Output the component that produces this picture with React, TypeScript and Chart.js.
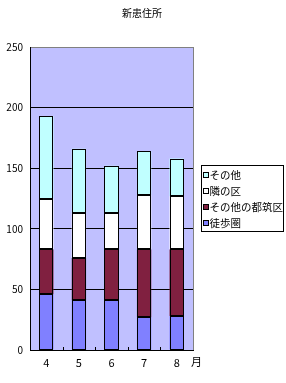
import React, { useEffect, useRef } from 'react';
import { Chart, registerables } from 'chart.js';

Chart.register(...registerables);

const TITLE = '新患住所';
const MONTHS = ['4', '5', '6', '7', '8'];
const MONTH_UNIT = '月';
const SERIES_NAMES = ['徒歩圏', 'その他の都筑区', '隣の区', 'その他'];
const WALKING = [46, 41, 41, 27, 28];
const OTHER_TSUZUKI = [37, 35, 42, 56, 55];
const NEIGHBOR_WARD = [42, 37, 30, 45, 44];
const OTHER = [68, 53, 39, 36, 31];
const SERIES_COLORS = ['#8080FF', '#802040', '#FFFFFF', '#C0FFFF'];
const Y_MIN = 0;
const Y_MAX = 250;
const Y_STEP = 50;

const FONT = '"Noto Sans CJK JP", "Noto Sans", sans-serif';

const decorPlugin = {
  id: 'decor',
  beforeDraw(chart: any) {
    const { ctx, chartArea } = chart;
    ctx.save();
    ctx.fillStyle = '#C0C0FF';
    ctx.fillRect(chartArea.left, chartArea.top, chartArea.right - chartArea.left, chartArea.bottom - chartArea.top);
    ctx.restore();
  },
  afterDatasetsDraw(chart: any) {
    const { ctx } = chart;
    ctx.save();
    ctx.strokeStyle = '#000';
    ctx.lineWidth = 1;
    chart.data.datasets.forEach((_: any, di: number) => {
      const meta = chart.getDatasetMeta(di);
      meta.data.forEach((el: any) => {
        const p = el.getProps(['x', 'y', 'base', 'width'], true);
        const l = Math.round(p.x - p.width / 2) + 0.5;
        const r = Math.round(p.x + p.width / 2) - 0.5;
        const t = Math.round(Math.min(p.y, p.base)) + 0.5;
        const b = Math.round(Math.max(p.y, p.base)) - 0.5;
        ctx.strokeRect(l, t, r - l, b - t);
      });
    });
    ctx.restore();
  },
  afterDraw(chart: any) {
    const { ctx, chartArea } = chart;
    ctx.save();
    // right border (gray)
    ctx.strokeStyle = '#808080';
    ctx.lineWidth = 1;
    ctx.beginPath();
    ctx.moveTo(Math.round(chartArea.right) + 0.5, chartArea.top);
    ctx.lineTo(Math.round(chartArea.right) + 0.5, chartArea.bottom);
    ctx.stroke();
    // category tick marks (inside)
    const n = MONTHS.length;
    const w = (chartArea.right - chartArea.left) / n;
    ctx.strokeStyle = '#000';
    ctx.beginPath();
    for (let i = 1; i < n; i++) {
      const x = Math.round(chartArea.left + w * i) + 0.5;
      ctx.moveTo(x, chartArea.bottom);
      ctx.lineTo(x, chartArea.bottom - 3);
    }
    ctx.stroke();
    // title
    ctx.fillStyle = '#000';
    ctx.font = `10px ${FONT}`;
    ctx.textAlign = 'center';
    ctx.textBaseline = 'middle';
    ctx.fillText(TITLE, 142, 13);
    // unit label
    ctx.font = `11px ${FONT}`;
    ctx.textAlign = 'left';
    ctx.fillText(MONTH_UNIT, chartArea.right - 2, chartArea.bottom + 12);
    // legend
    const bx = 201.5, by = 165.5, bw = 82, bh = 66;
    ctx.fillStyle = '#FFFFFF';
    ctx.fillRect(bx, by, bw, bh);
    ctx.strokeStyle = '#000';
    ctx.strokeRect(bx, by, bw, bh);
    const ds = chart.data.datasets;
    const rowY0 = 175;
    const rowStep = 16;
    ctx.font = `10.5px ${FONT}`;
    ctx.textBaseline = 'middle';
    for (let k = 0; k < ds.length; k++) {
      const d = ds[ds.length - 1 - k];
      const y = rowY0 + rowStep * k;
      ctx.fillStyle = d.backgroundColor;
      ctx.fillRect(203, y - 3, 6, 6);
      ctx.strokeStyle = '#000';
      ctx.strokeRect(203.5, y - 2.5, 5, 5);
      ctx.fillStyle = '#000';
      ctx.fillText(d.label, 209.5, y);
    }
    ctx.restore();
  },
};

export default function App() {
  const ref = useRef<HTMLCanvasElement | null>(null);
  useEffect(() => {
    if (!ref.current) return;
    const seriesValues = [WALKING, OTHER_TSUZUKI, NEIGHBOR_WARD, OTHER];
    const chart = new Chart(ref.current, {
      type: 'bar',
      data: {
        labels: MONTHS,
        datasets: SERIES_NAMES.map((name, i) => ({
          label: name,
          data: seriesValues[i],
          backgroundColor: SERIES_COLORS[i],
          borderWidth: 0,
          categoryPercentage: 1,
          barPercentage: 0.44,
        })),
      },
      options: {
        responsive: false,
        animation: false,
        devicePixelRatio: 1,
        layout: { padding: { top: 47, right: 93, bottom: 0, left: 0 } },
        plugins: {
          legend: { display: false },
          title: { display: false },
          tooltip: { enabled: false },
        },
        scales: {
          x: {
            stacked: true,
            grid: { display: false, drawTicks: false },
            border: { display: true, color: '#000', width: 1 },
            ticks: { color: '#000', font: { family: FONT, size: 11 }, padding: 6, maxRotation: 0 },
            afterFit: (s: any) => { s.height = 33; },
          },
          y: {
            stacked: true,
            min: Y_MIN,
            max: Y_MAX,
            grid: {
              drawTicks: false,
              color: (c: any) => (c.tick && c.tick.value === Y_MAX ? '#808080' : '#000'),
              lineWidth: 1,
            },
            border: { display: true, color: '#000', width: 1 },
            ticks: { stepSize: Y_STEP, color: '#000', font: { family: FONT, size: 10 }, padding: 7 },
            afterFit: (s: any) => { s.width = 30; },
          },
        },
      },
      plugins: [decorPlugin],
    });
    return () => chart.destroy();
  }, []);
  return (
    <div style={{ position: 'fixed', left: 0, top: 0, width: 286, height: 383, background: '#fff' }}>
      <canvas ref={ref} width={286} height={383} style={{ display: 'block', width: 286, height: 383 }} />
    </div>
  );
}
